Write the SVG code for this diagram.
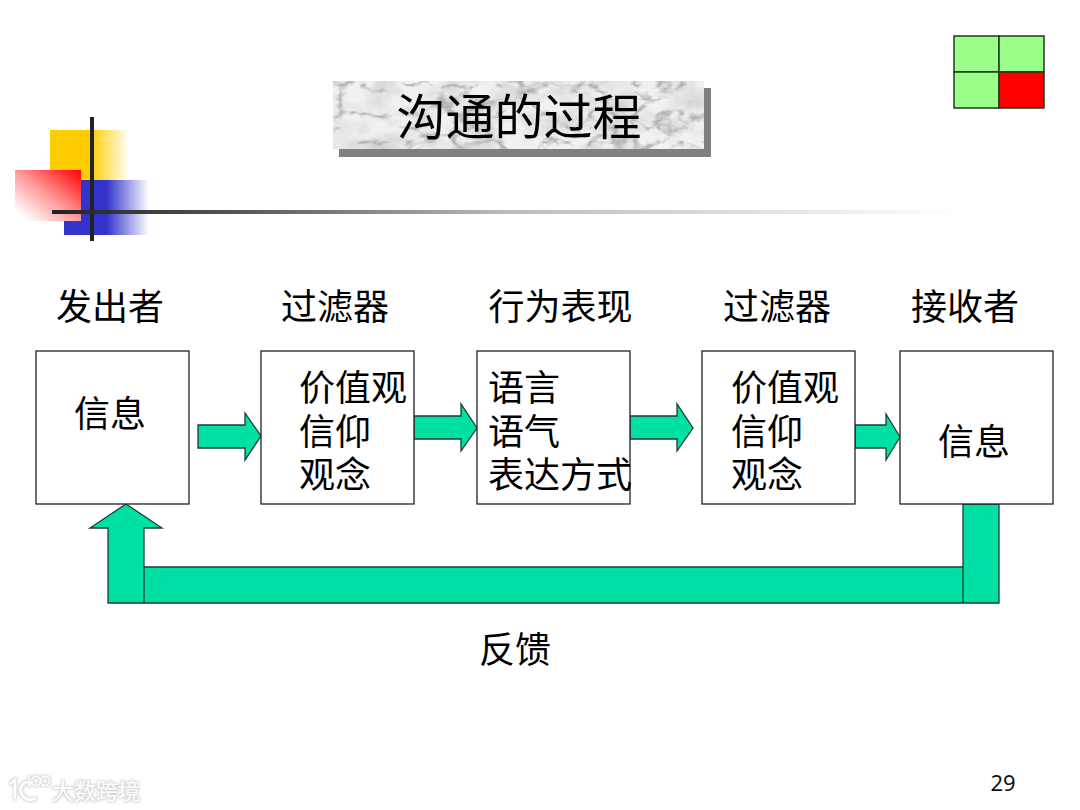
<svg xmlns="http://www.w3.org/2000/svg" width="1080" height="810" viewBox="0 0 1080 810">
<style>
text{font-family:"Noto Sans CJK SC","Noto Sans CJK TC",sans-serif;font-size:36px;fill:#000}
.box{fill:#fff;stroke:#222;stroke-width:1.3}
.arr{fill:#00E0A4;stroke:#1d3d33;stroke-width:1.3;stroke-linejoin:miter}
.g{fill:#99FF88;stroke:#1f3a1f;stroke-width:1.5}
</style>
<defs>
<linearGradient id="ye" x1="0" x2="1" y1="0" y2="0"><stop offset="0" stop-color="#FFCC00"/><stop offset=".5" stop-color="#FFCC00"/><stop offset="1" stop-color="#FFCC00" stop-opacity="0"/></linearGradient>
<linearGradient id="bl" x1="0" x2="1" y1="0" y2="0"><stop offset="0" stop-color="#3333CC"/><stop offset=".5" stop-color="#3333CC"/><stop offset="1" stop-color="#3333CC" stop-opacity="0"/></linearGradient>
<linearGradient id="re" x1="1" x2="0" y1="0" y2="1"><stop offset="0" stop-color="#FF0000"/><stop offset=".5" stop-color="#FF9a9a"/><stop offset=".9" stop-color="#fff"/><stop offset="1" stop-color="#fff"/></linearGradient>
<linearGradient id="hl" gradientUnits="userSpaceOnUse" x1="52" x2="960" y1="0" y2="0"><stop offset="0" stop-color="#222"/><stop offset=".2" stop-color="#555"/><stop offset=".5" stop-color="#bbb"/><stop offset="1" stop-color="#fff"/></linearGradient>
<filter id="marble" x="0" y="0" width="100%" height="100%">
<feTurbulence type="fractalNoise" baseFrequency="0.03 0.045" numOctaves="4" seed="5"/>
<feColorMatrix type="matrix" values="0 0 0 0 .55  0 0 0 0 .55  0 0 0 0 .55  1.6 0 0 0 -.62"/>
<feComposite in2="SourceGraphic" operator="in" result="c"/>
<feTurbulence type="turbulence" baseFrequency="0.022 0.035" numOctaves="4" seed="11"/>
<feColorMatrix type="matrix" values="0 0 0 0 .45  0 0 0 0 .45  0 0 0 0 .45  -6 0 0 0 1.35"/>
<feComposite in2="SourceGraphic" operator="in" result="v"/>
<feMerge><feMergeNode in="SourceGraphic"/><feMergeNode in="c"/><feMergeNode in="v"/></feMerge>
</filter>
<filter id="wm" x="-20%" y="-40%" width="140%" height="180%">
<feMorphology in="SourceAlpha" operator="dilate" radius=".8"/>
<feGaussianBlur stdDeviation="1.2"/>
<feColorMatrix type="matrix" values="0 0 0 0 .55  0 0 0 0 .55  0 0 0 0 .55  0 0 0 .7 0" result="s"/>
<feMerge><feMergeNode in="s"/><feMergeNode in="SourceGraphic"/></feMerge>
</filter>
</defs>
<rect width="1080" height="810" fill="#fff"/>

<g id="grid">
<rect class="g" x="954" y="36" width="45" height="36"/>
<rect class="g" x="999" y="36" width="45" height="36"/>
<rect class="g" x="954" y="72" width="45" height="36"/>
<rect class="g" x="999" y="72" width="45" height="36" style="fill:#FF0000"/>
</g>

<g id="decor">
<rect x="50" y="130" width="80" height="50" fill="url(#ye)"/>
<rect x="64" y="180" width="85" height="55" fill="url(#bl)"/>
<rect x="15" y="170" width="66" height="51" fill="url(#re)"/>
<rect x="90" y="117" width="4" height="124" fill="#222"/>
<rect x="52" y="210" width="908" height="4" fill="url(#hl)"/>
</g>

<g id="title">
<rect x="339" y="88" width="372" height="69" fill="#808080"/>
<rect x="333" y="81" width="371" height="68" fill="#f1f1f1" filter="url(#marble)"/>
<text x="519" y="135" text-anchor="middle" style="font-size:49px">沟通的过程</text>
</g>

<g id="connectors">
<path class="arr" d="M198 425H245V413L261 436L245 460V448H198Z"/>
<path class="arr" d="M414 416H461V404L477 428L461 451V439H414Z"/>
<path class="arr" d="M630 416H677V404L693 428L677 451V439H630Z"/>
<path class="arr" d="M855 425H886V414L900 437L886 460V448H855Z"/>
<path class="arr" d="M126 504L162 528H144V567H963V504H999V603H108V528H90Z"/>
<path d="M144 567V603M963 567V603" fill="none" stroke="#1d3d33" stroke-width="1.3"/>
</g>

<g id="sender">
<text x="56" y="320">发出者</text>
<rect class="box" x="36" y="351" width="153" height="153"/>
<text x="74" y="427">信息</text>
</g>
<g id="filter1">
<text x="281" y="320">过滤器</text>
<rect class="box" x="261" y="351" width="153" height="153"/>
<text x="299" y="401">价值观</text>
<text x="299" y="445">信仰</text>
<text x="299" y="488">观念</text>
</g>
<g id="behavior">
<text x="488.500" y="320">行为表现</text>
<rect class="box" x="477" y="351" width="153" height="153"/>
<text x="488" y="401">语言</text>
<text x="488" y="445">语气</text>
<text x="488" y="488">表达方式</text>
</g>
<g id="filter2">
<text x="723" y="320">过滤器</text>
<rect class="box" x="702" y="351" width="153" height="153"/>
<text x="731" y="401">价值观</text>
<text x="731" y="445">信仰</text>
<text x="731" y="488">观念</text>
</g>
<g id="receiver">
<text x="911" y="320">接收者</text>
<rect class="box" x="900" y="351" width="153" height="153"/>
<text x="938" y="455">信息</text>
</g>
<g id="feedback"><text x="479" y="663">反馈</text></g>

<text x="1003" y="791" text-anchor="middle" style="font-family:'Noto Sans',sans-serif;font-size:22px;fill:#111">29</text>

<g id="watermark" filter="url(#wm)">
<path d="M10 784L15 780V799M32 784C24 778 18 788 22 795C25 800 31 801 36 798" fill="none" stroke="#fff" stroke-width="2.5"/>
<path d="M29 776V787" fill="none" stroke="#fff" stroke-width="1.6"/>
<circle cx="36" cy="781" r="4.500" fill="none" stroke="#fff" stroke-width="1.6"/>
<circle cx="45" cy="781" r="4.500" fill="none" stroke="#fff" stroke-width="1.6"/>
<text x="52" y="799" style="font-size:22px;fill:#fff">大数跨境</text>
</g>
</svg>
